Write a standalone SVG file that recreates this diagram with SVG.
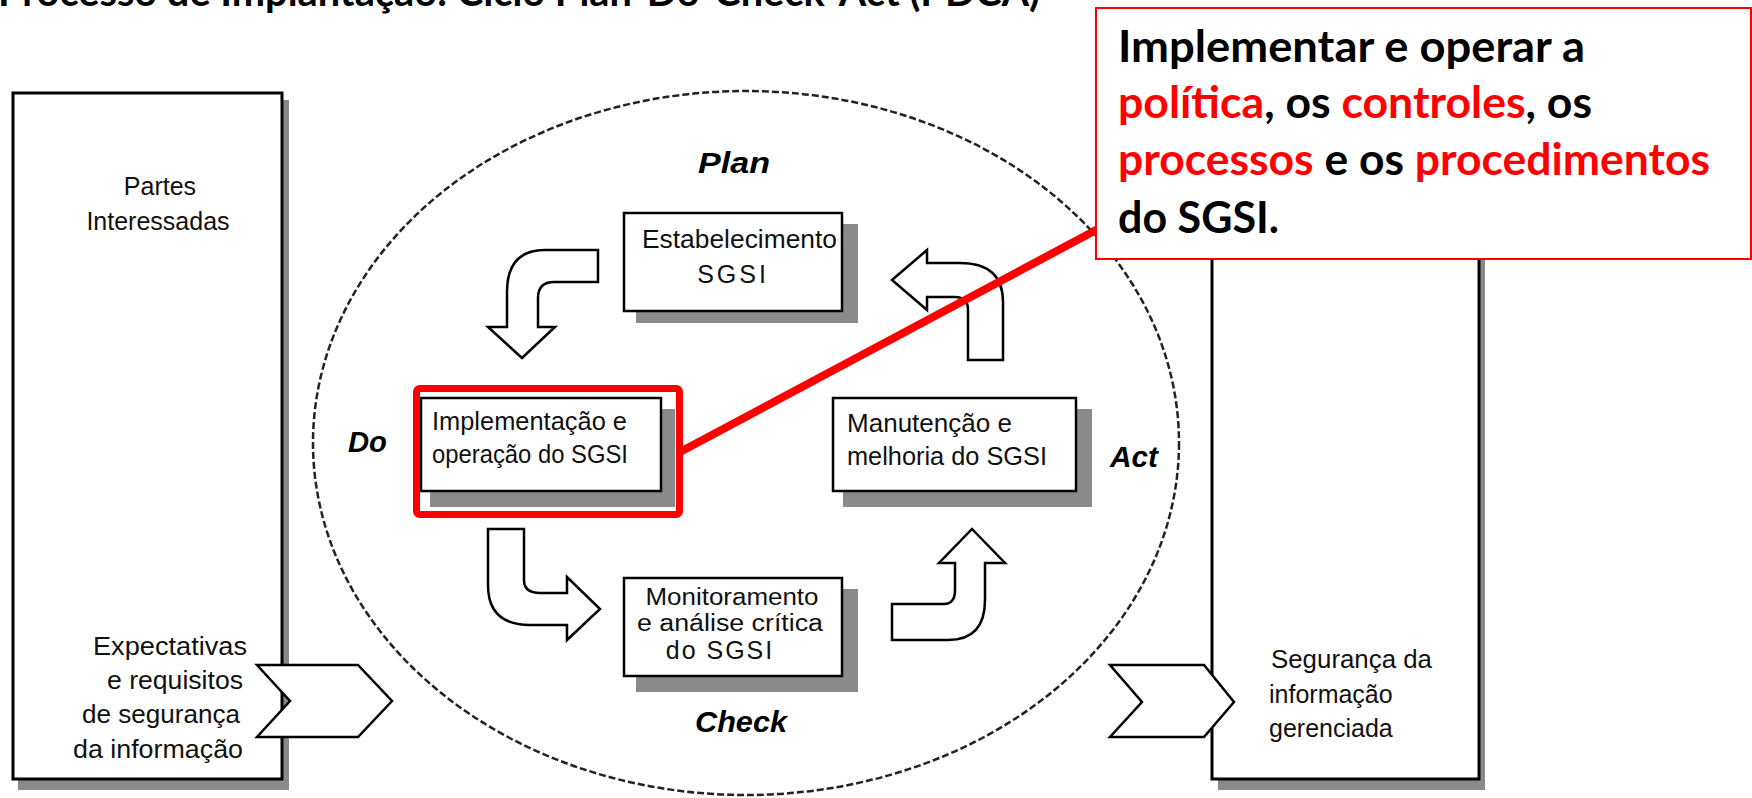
<svg xmlns="http://www.w3.org/2000/svg" width="1752" height="798" viewBox="0 0 1752 798">
  <style>
    .frame { fill: #ffffff; stroke: #000000; stroke-width: 3; }
    .box { fill: #ffffff; stroke: #000000; stroke-width: 2.5; }
    .shadow { fill: #8a8a8a; stroke: none; }
    .flow { fill: #ffffff; stroke: #000000; stroke-width: 2.5; stroke-linejoin: miter; }
    .lbl { font-family: "Liberation Sans", Arial, sans-serif; font-size: 25px; fill: #111111; }
    .tight { font-size: 23px; }
    .phase { font-family: "Liberation Sans", Arial, sans-serif; font-size: 30px; font-weight: bold; font-style: italic; fill: #000000; }
    .head { font-family: Lato, "Open Sans", sans-serif; font-weight: bold; fill: #000000; }
    .hot { fill: #ff0000; }
  </style>

  <rect width="1752" height="798" fill="#ffffff"/>

  <!-- heading, mostly above the top edge -->
  <text class="head" x="-2" y="6" font-size="40" textLength="1042" lengthAdjust="spacingAndGlyphs">Processo de Implantação: Ciclo Plan-Do-Check-Act (PDCA)</text>

  <!-- dashed cycle boundary -->
  <ellipse id="cycle" cx="746" cy="443" rx="433" ry="352" fill="none" stroke="#222222" stroke-width="2.5" stroke-dasharray="7 3"/>

  <!-- stakeholders (input side) -->
  <g id="node-partes">
    <rect class="shadow" x="18" y="100" width="271" height="690"/>
    <rect class="frame" x="13" y="93" width="269" height="686"/>
    <text class="lbl" x="160" y="195" text-anchor="middle">Partes</text>
    <text class="lbl" x="158" y="230" text-anchor="middle">Interessadas</text>
    <text class="lbl" x="247" y="655" text-anchor="end" textLength="154" lengthAdjust="spacingAndGlyphs">Expectativas</text>
    <text class="lbl" x="243" y="689" text-anchor="end" textLength="136" lengthAdjust="spacingAndGlyphs">e requisitos</text>
    <text class="lbl" x="240" y="723" text-anchor="end" textLength="158" lengthAdjust="spacingAndGlyphs">de segurança</text>
    <text class="lbl" x="243" y="758" text-anchor="end" textLength="170" lengthAdjust="spacingAndGlyphs">da informação</text>
  </g>

  <!-- stakeholders (output side) -->
  <g id="node-seguranca">
    <rect class="shadow" x="1218" y="100" width="267" height="690"/>
    <rect class="frame" x="1212" y="93" width="267" height="686"/>
    <text class="lbl" x="1271" y="668" textLength="161" lengthAdjust="spacingAndGlyphs">Segurança da</text>
    <text class="lbl" x="1269" y="703">informação</text>
    <text class="lbl" x="1269" y="737">gerenciada</text>
  </g>

  <!-- Plan -->
  <g id="node-plan">
    <rect class="shadow" x="636" y="224" width="222" height="99"/>
    <rect class="box" x="624" y="213" width="218" height="98"/>
    <text class="lbl" x="642" y="248" textLength="195" lengthAdjust="spacingAndGlyphs">Estabelecimento</text>
    <text class="lbl" x="733" y="283" text-anchor="middle" letter-spacing="3">SGSI</text>
  </g>

  <!-- Do -->
  <g id="node-do">
    <rect class="shadow" x="430" y="409" width="245" height="98"/>
    <rect class="box" x="421" y="398" width="240" height="93"/>
    <text class="lbl" x="432" y="430" textLength="195" lengthAdjust="spacingAndGlyphs">Implementação e</text>
    <text class="lbl" x="432" y="463" textLength="196" lengthAdjust="spacingAndGlyphs">operação do SGSI</text>
  </g>

  <!-- Act -->
  <g id="node-act">
    <rect class="shadow" x="843" y="409" width="249" height="98"/>
    <rect class="box" x="833" y="398" width="243" height="93"/>
    <text class="lbl" x="847" y="432" textLength="165" lengthAdjust="spacingAndGlyphs">Manutenção e</text>
    <text class="lbl" x="847" y="465" textLength="200" lengthAdjust="spacingAndGlyphs">melhoria do SGSI</text>
  </g>

  <!-- Check -->
  <g id="node-check">
    <rect class="shadow" x="636" y="589" width="222" height="103"/>
    <rect class="box" x="624" y="578" width="218" height="98"/>
    <text class="lbl tight" x="732" y="605" text-anchor="middle" textLength="173" lengthAdjust="spacingAndGlyphs">Monitoramento</text>
    <text class="lbl tight" x="730" y="631" text-anchor="middle" textLength="186" lengthAdjust="spacingAndGlyphs">e análise crítica</text>
    <text class="lbl" x="720" y="659" text-anchor="middle" letter-spacing="2">do SGSI</text>
  </g>

  <!-- phase names -->
  <g id="phase-labels">
    <text class="phase" x="698" y="173" textLength="72" lengthAdjust="spacingAndGlyphs">Plan</text>
    <text class="phase" x="348" y="452" textLength="39" lengthAdjust="spacingAndGlyphs">Do</text>
    <text class="phase" x="695" y="732" textLength="92" lengthAdjust="spacingAndGlyphs">Check</text>
    <text class="phase" x="1110" y="467" textLength="48" lengthAdjust="spacingAndGlyphs">Act</text>
  </g>

  <!-- cycle arrows and input/output chevrons -->
  <g id="connectors">
    <path class="flow" d="M598,250 L545,250 Q507,250 507,292 L507,327 L488,327 L522,358 L555,327 L538,327 L538,298 Q538,282 554,282 L598,282 Z"/>
    <path class="flow" d="M488,529 L524,529 L524,580 Q524,593 540,593 L567,593 L567,577 L600,609 L567,640 L567,625 L530,625 Q488,625 488,585 Z"/>
    <path class="flow" d="M972,529 L1005,563 L985,563 L985,600 Q985,640 948,640 L892,640 L892,604 L944,604 Q955,604 955,590 L955,563 L939,563 Z"/>
    <path class="flow" d="M892,280 L927,250 L927,263 L960,263 Q1003,263 1003,302 L1003,360 L968,360 L968,310 Q968,297 955,297 L927,297 L927,310 Z"/>
    <path class="flow" d="M257,665 L358,665 L392,701 L358,737 L257,737 L290,701 Z"/>
    <path class="flow" d="M1110,665 L1204,665 L1234,702 L1204,737 L1110,737 L1142,702 Z"/>
  </g>

  <!-- emphasis on the Do step with its note -->
  <g id="highlight">
    <rect x="416.5" y="388.5" width="263" height="126" rx="3" fill="none" stroke="#ff0000" stroke-width="7"/>
    <line x1="680" y1="452" x2="1098" y2="229" stroke="#ff0000" stroke-width="8"/>
  </g>

  <g id="note">
    <rect x="1096" y="8" width="655" height="251" fill="#ffffff" stroke="#ff0000" stroke-width="2"/>
    <text class="head" x="1118" y="62" font-size="44" textLength="467" lengthAdjust="spacingAndGlyphs">Implementar e operar a</text>
    <text class="head" x="1118" y="118" font-size="44" textLength="474" lengthAdjust="spacingAndGlyphs"><tspan class="hot">política</tspan>, os <tspan class="hot">controles</tspan>, os</text>
    <text class="head" x="1118" y="175" font-size="44" textLength="592" lengthAdjust="spacingAndGlyphs"><tspan class="hot">processos</tspan> e os <tspan class="hot">procedimentos</tspan></text>
    <text class="head" x="1118" y="233" font-size="44" textLength="161" lengthAdjust="spacingAndGlyphs">do SGSI.</text>
  </g>
</svg>
